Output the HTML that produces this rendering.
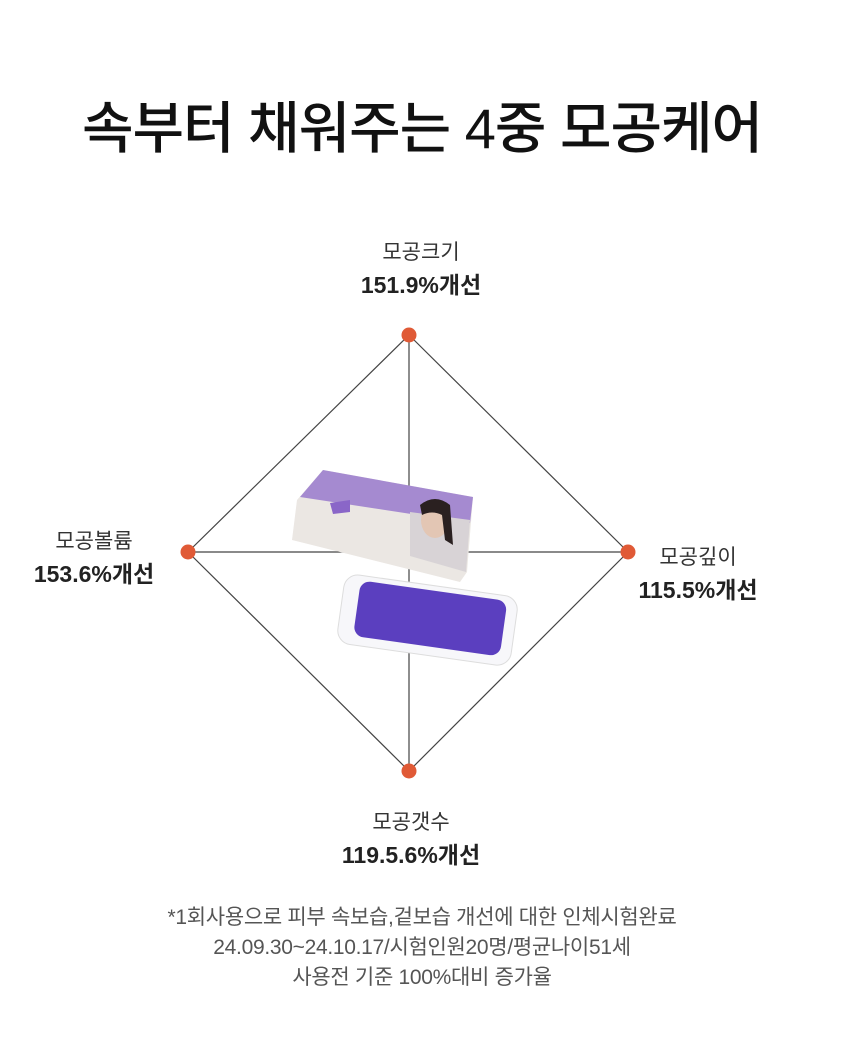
<!DOCTYPE html>
<html><head><meta charset="utf-8"><style>
body{margin:0;width:860px;height:1042px;background:#fff;position:relative;overflow:hidden;font-family:"Liberation Sans","Noto Sans CJK KR",sans-serif;color:#222}
.t{position:absolute;left:-8px;width:860px;text-align:center;top:84px;font-size:56px;font-weight:500;letter-spacing:-1px;color:#111}
.l{position:absolute;text-align:center;font-size:21px;line-height:33px;color:#333;white-space:nowrap}
.l b{font-size:23px;color:#222}
.f{position:absolute;left:-8px;width:860px;top:903px;text-align:center;font-size:21px;line-height:30px;color:#555;letter-spacing:-0.3px}
</style></head><body>
<div class="t">속부터 채워주는 4중 모공케어</div>
<svg width="860" height="1042" style="position:absolute;left:0;top:0">
<g stroke="#444" stroke-width="1.2" fill="none">
<polygon points="409,335 628,552 409,771 188,552"/>
<line x1="188" y1="552" x2="628" y2="552"/>
<line x1="409" y1="335" x2="409" y2="771"/>
</g>
<polygon points="292,540 297,500 323,470 473,497 467,572 460,582" fill="#ebe7e3"/>
<polygon points="323,470 473,497 470,523 300,497" fill="#a58ad0"/>
<polygon points="410,512 470,520 466,572 410,556" fill="#d8d3d6"/>
<ellipse cx="435" cy="520" rx="14" ry="18" fill="#e3c6b4"/>
<path d="M420 505 q15 -12 30 0 l3 40 l-8 -5 l-3 -25 q-10 -5 -20 0z" fill="#2a2020"/>
<polygon points="330,503 350,500 350,512 333,514" fill="#8a66c8"/>
<rect x="340" y="585" width="175" height="70" rx="14" fill="#f7f7fa" stroke="#ddd" transform="rotate(8 427 620)"/>
<rect x="356" y="590" width="148" height="56" rx="10" fill="#5b3fbf" transform="rotate(8 427 620)"/>
<g fill="#e05a36">
<circle cx="409" cy="335" r="7.5"/><circle cx="628" cy="552" r="7.5"/><circle cx="409" cy="771" r="7.5"/><circle cx="188" cy="552" r="7.5"/>
</g>
</svg>
<div class="l" style="left:321px;width:200px;top:236px">모공크기<br><b>151.9%개선</b></div>
<div class="l" style="left:8px;width:172px;top:525px">모공볼륨<br><b>153.6%개선</b></div>
<div class="l" style="left:612px;width:172px;top:541px">모공깊이<br><b>115.5%개선</b></div>
<div class="l" style="left:311px;width:200px;top:806px">모공갯수<br><b>119.5.6%개선</b></div>
<div class="f">*1회사용으로 피부 속보습,겉보습 개선에 대한 인체시험완료<br>24.09.30~24.10.17/시험인원20명/평균나이51세<br>사용전 기준 100%대비 증가율</div>
</body></html>
